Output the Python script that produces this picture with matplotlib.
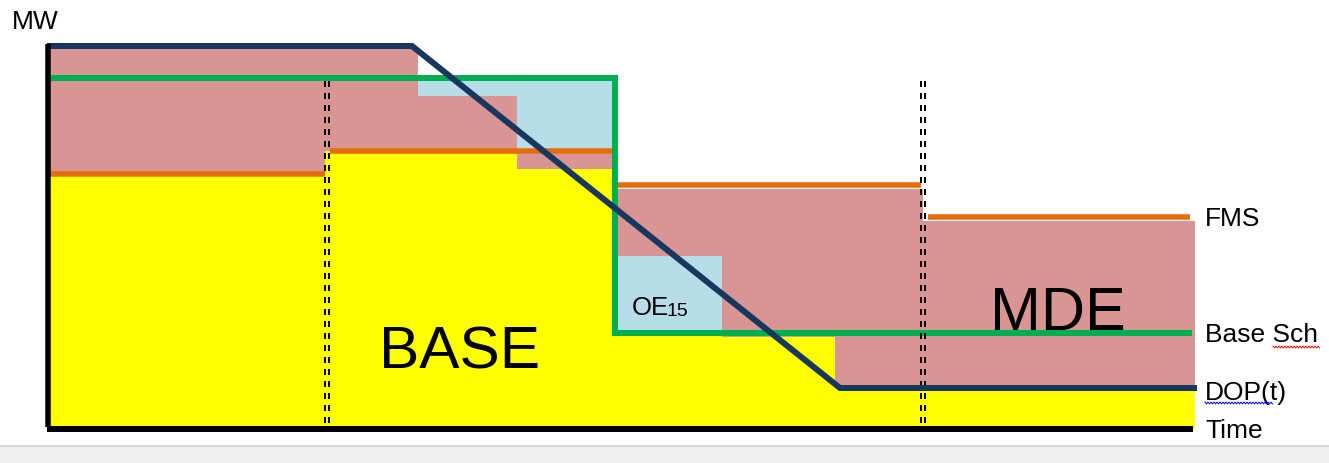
import matplotlib
matplotlib.use('Agg')
import matplotlib.pyplot as plt
import numpy as np

plt.rcParams['font.family'] = ['Liberation Sans', 'DejaVu Sans']

# ---- data (time units along x, MW units along y; 0 = time axis) ----
# 15-minute interval boundaries
t_edges = [50, 325, 418, 517, 615, 722, 835, 923, 1195]
# BASE (yellow) energy top per interval
base_top = [255, 278, 278, 260, 96, 92, 42, 42]
# MDE (pink) band per interval
mde_lo = [255, 278, 278, 260, 173, 92, 42, 42]
mde_hi = [381, 381, 333, 276, 240, 240, 240, 208]
# OE15 (light blue) band per interval (0 height where absent)
oe_lo = [0, 0, 333, 276, 97, 0, 0, 0]
oe_hi = [0, 0, 350, 350, 173, 0, 0, 0]

# FMS segments (orange)
fms_start = [47, 330, 615, 928]
fms_end = [325, 612, 921, 1190]
fms_val = [255, 278, 244, 212]

# Base schedule (green)
bsch_t = [47, 615, 615, 1192]
bsch_v = [351.5, 351.5, 96, 96]

# DOP(t) (navy)
dop_t = [47, 412, 840, 1197]
dop_v = [383, 383, 41, 41]

# hour boundaries (dotted)
hour_t = [327, 923]

# ---- colours ----
YELLOW = '#ffff00'
PINK = '#d99594'
BLUE = '#b7dde8'
ORANGE = '#e46c0a'
GREEN = '#00b050'
NAVY = '#17375e'

W, H = 1329, 464
fig = plt.figure(figsize=(W / 100, H / 100), dpi=100)
ax = fig.add_axes([0, 0, 1, 1])
ax.set_xlim(0, W)
# y pixel = 430 - value
ax.set_ylim(430 - H, 430)
ax.axis('off')

edges = np.array(t_edges)
widths = np.diff(edges)
lefts = edges[:-1]

ax.bar(lefts, base_top, width=widths, bottom=0, align='edge',
       color=YELLOW, linewidth=0, zorder=1)
ax.bar(lefts, np.array(mde_hi) - np.array(mde_lo), width=widths,
       bottom=mde_lo, align='edge', color=PINK, linewidth=0, zorder=1)
oe_h = np.array(oe_hi) - np.array(oe_lo)
ax.bar(lefts, oe_h, width=widths, bottom=oe_lo, align='edge',
       color=BLUE, linewidth=0, zorder=1)

px = 0.72  # points per pixel at dpi 100
for s, e, v in zip(fms_start, fms_end, fms_val):
    ax.plot([s, e], [v, v], color=ORANGE, lw=5.5 * px, solid_capstyle='butt', zorder=3)

ax.plot(bsch_t, bsch_v, color=GREEN, lw=6 * px, solid_capstyle='butt',
        solid_joinstyle='miter', zorder=4)

# dotted hour lines (double dashed)
for x in hour_t:
    for dx in (-1.7, 1.7):
        ax.plot([x + dx, x + dx], [348, 2], color='black', lw=2 * px,
                linestyle=(0, (3, 3)), zorder=5)

ax.plot(dop_t, dop_v, color=NAVY, lw=6 * px, solid_capstyle='butt',
        solid_joinstyle='miter', zorder=6)

# axes
ax.plot([47.5, 47.5], [2, 385], color='black', lw=5.5 * px, solid_capstyle='butt', zorder=7)
ax.plot([47, 1193], [0, 0], color='black', lw=6 * px, solid_capstyle='butt', zorder=7)

# grey strip at bottom
ax.axhspan(430 - H, 430 - 447, color='#f0f0f0', zorder=0, lw=0)
ax.plot([0, W], [430 - 447, 430 - 447], color='#d6d6d6', lw=2 * px, zorder=0)

# ---- texts ----
def T(x, ypx, s, size, **kw):
    ax.text(x, 430 - ypx, s, fontsize=size, va='baseline', ha='left',
            color='black', zorder=10, **kw)

T(12, 29, 'MW', 19)
T(1205, 226, 'FMS', 19)
T(1205, 342, 'Base Sch', 19)
T(1205, 400, 'DOP(t)', 19)
T(1205, 438, 'Time', 19)
T(379, 369, 'BASE', 43.5)
T(990, 330, 'MDE', 44)
T(632, 315, 'OE', 18.5)
T(667, 316, '15', 14)

# spell-check squiggles
def squiggle(x0, x1, ypx, color):
    xs = np.arange(x0, x1 + 0.1, 1.5)
    ys = np.array([ypx + (0.9 if i % 2 else -0.9) for i in range(len(xs))])
    ax.plot(xs, 430 - ys, color=color, lw=1 * px, zorder=10)

squiggle(1273, 1320, 348, '#ff0000')
squiggle(1205, 1273, 404, '#0000ff')

fig.savefig('out.png', dpi=100)
